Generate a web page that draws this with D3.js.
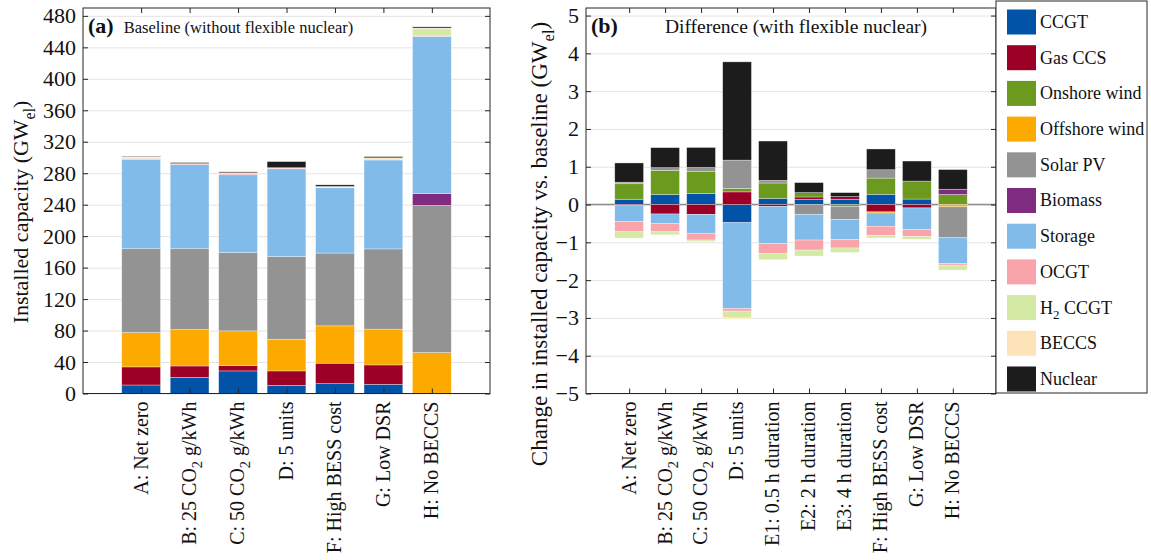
<!DOCTYPE html>
<html>
<head>
<meta charset="utf-8">
<script src="https://cdn.jsdelivr.net/npm/d3@7"></script>
<style>
    body { margin: 0; background: #fff; }
    svg, svg text { font-family: "Liberation Serif", "Times New Roman", serif; }
    svg { display: block; }
</style>
</head>
<body>
<div id="chart"></div>
<script>
// technologies, in stacking order
let techs = ['CCGT', 'Gas CCS', 'Onshore wind', 'Offshore wind', 'Solar PV', 'Biomass',
    'Storage', 'OCGT', 'H_{2} CCGT', 'BECCS', 'Nuclear']
let techColors = ['#0053a6', '#9c0026', '#6b9a1f', '#fcaa00', '#939393', '#7e2b80',
    '#80bbea', '#f9a3ab', '#d4eaa4', '#fde4b8', '#1c1c1c']

// panel (a) - baseline, GW
let baseCats = ['A: Net zero', 'B: 25 CO_{2} g/kWh', 'C: 50 CO_{2} g/kWh', 'D: 5 units',
    'F: High BESS cost', 'G: Low DSR', 'H: No BECCS']
let baseCCGT = [10.8, 20.6, 28.7, 10.4, 12.5, 11.7, 0]
let baseGasCCS = [23, 14.4, 6.7, 18.3, 26, 24.6, 0]
let baseOnshore = [0, 0, 0, 0, 0, 0, 0]
let baseOffshore = [43.7, 46.3, 44.2, 40.3, 47.5, 45.5, 52]
let baseSolar = [106.5, 102.7, 99.4, 105, 92.5, 102, 187]
let baseBiomass = [0, 0, 0, 0, 0, 0, 15]
let baseStorage = [113.5, 107, 99, 111.6, 83, 113, 200]
let baseOCGT = [1.5, 1, 2, 1, 0.5, 1, 0.5]
let baseH2 = [0.5, 0, 0, 0, 0, 0, 9]
let baseBECCS = [1.2, 0.3, 0.5, 0.4, 1.2, 1.8, 1]
let baseNuclear = [0.8, 1.2, 1.2, 7.8, 2, 1.5, 1.5]
let baseTicks = d3.range(0, 481, 40)

// panel (b) - difference with flexible nuclear, GW
let diffCats = ['A: Net zero', 'B: 25 CO_{2} g/kWh', 'C: 50 CO_{2} g/kWh', 'D: 5 units',
    'E1: 0.5 h duration', 'E2: 2 h duration', 'E3: 4 h duration',
    'F: High BESS cost', 'G: Low DSR', 'H: No BECCS']
let diffCCGT = [0.14, 0.265, 0.29, -0.48, 0.16, 0.14, 0.14, 0.27, 0.145, 0]
let diffGasCCS = [-0.03, -0.25, -0.26, 0.335, -0.05, 0.06, 0.07, -0.195, -0.09, 0]
let diffOnshore = [0.41, 0.64, 0.58, 0.09, 0.41, 0.115, -0.05, 0.43, 0.476, 0.265]
let diffOffshore = [0, 0, 0, 0, 0, 0, 0, -0.03, 0, -0.06]
let diffSolar = [0.04, 0.07, 0.11, 0.75, 0.07, -0.26, -0.35, 0.22, 0, -0.82]
let diffBiomass = [0, 0, 0, 0, 0, 0, 0, 0, 0, 0.14]
let diffStorage = [-0.42, -0.25, -0.5, -2.27, -0.98, -0.68, -0.53, -0.35, -0.57, -0.68]
let diffOCGT = [-0.27, -0.22, -0.18, -0.07, -0.27, -0.265, -0.22, -0.24, -0.19, -0.045]
let diffH2 = [-0.17, -0.08, -0.04, -0.18, -0.16, -0.16, -0.12, -0.07, -0.07, -0.13]
let diffBECCS = [0, 0, 0, -0.03, 0, 0, 0, 0, 0, 0]
let diffNuclear = [0.51, 0.53, 0.53, 2.6, 1.04, 0.265, 0.105, 0.55, 0.53, 0.52]
let diffTicks = d3.range(-5, 6, 1)

let baseSeries = [baseCCGT, baseGasCCS, baseOnshore, baseOffshore, baseSolar, baseBiomass,
    baseStorage, baseOCGT, baseH2, baseBECCS, baseNuclear]
let diffSeries = [diffCCGT, diffGasCCS, diffOnshore, diffOffshore, diffSolar, diffBiomass,
    diffStorage, diffOCGT, diffH2, diffBECCS, diffNuclear]

let width = 1151
let height = 560
let serif = '"Liberation Serif", "Times New Roman", serif'
let catFont = 20
let tickFont = 22

let svg = d3.select('#chart').append('svg')
    .attr('width', width)
    .attr('height', height)
    .attr('font-family', serif)

// writes "text_{sub}" as text with subscript tspans
function richText(sel, str, size) {
    let parts = str.split(/_\{([^}]*)\}/)
    let shift = size * 0.3
    parts.forEach((p, i) => {
        if (p === '') return
        let t = sel.append('tspan').text(p)
        if (i % 2 === 1) {
            t.attr('font-size', size * 0.72).attr('dy', shift)
        } else if (i > 0) {
            t.attr('dy', -shift)
        }
    })
}

function drawPanel(cfg) {
    let g = svg.append('g')
    let x = d3.scaleLinear().domain(cfg.xDomain).range([cfg.left, cfg.right])
    let y = d3.scaleLinear().domain(cfg.yDomain).range([cfg.bottom, cfg.top])
    let bw = (x(0.8) - x(0))

    // grid
    g.append('g')
        .attr('transform', 'translate(' + cfg.left + ',0)')
        .call(d3.axisLeft(y).tickValues(cfg.ticks).tickSize(-(cfg.right - cfg.left)).tickFormat(''))
        .call(s => s.select('.domain').remove())
        .selectAll('line').attr('stroke', '#e4e4e4')

    if (cfg.zeroLine) {
        g.append('line')
            .attr('x1', cfg.left).attr('x2', cfg.right)
            .attr('y1', y(0)).attr('y2', y(0))
            .attr('stroke', '#8c8c8c').attr('stroke-width', 1.5)
    }

    let rows = cfg.cats.map((c, i) => {
        let r = { idx: i + 1 }
        techs.forEach((t, j) => { r[t] = cfg.series[j][i] })
        return r
    })
    let stacked = d3.stack().keys(techs).offset(d3.stackOffsetDiverging)(rows)

    g.selectAll('.layer')
        .data(stacked)
        .join('g')
        .attr('fill', (d, i) => techColors[i])
        .selectAll('rect')
        .data(d => d.filter(v => v[1] !== v[0]))
        .join('rect')
        .attr('x', d => x(d.data.idx) - bw / 2)
        .attr('width', bw)
        .attr('y', d => y(Math.max(d[0], d[1])))
        .attr('height', d => Math.abs(y(d[0]) - y(d[1])))
        .attr('stroke', '#ffffff')
        .attr('stroke-opacity', 0.55)
        .attr('stroke-width', 0.6)

    // frame and ticks
    let idxs = cfg.cats.map((c, i) => i + 1)
    let axisColor = '#262626'
    g.append('g')
        .attr('transform', 'translate(0,' + cfg.bottom + ')')
        .call(d3.axisBottom(x).tickValues(idxs).tickSize(-5).tickFormat(''))
        .call(s => s.select('.domain').remove())
        .selectAll('line').attr('stroke', axisColor)
    g.append('g')
        .attr('transform', 'translate(0,' + cfg.top + ')')
        .call(d3.axisTop(x).tickValues(idxs).tickSize(-5).tickFormat(''))
        .call(s => s.select('.domain').remove())
        .selectAll('line').attr('stroke', axisColor)
    g.append('g')
        .attr('transform', 'translate(' + cfg.right + ',0)')
        .call(d3.axisRight(y).tickValues(cfg.ticks).tickSize(-5).tickFormat(''))
        .call(s => s.select('.domain').remove())
        .selectAll('line').attr('stroke', axisColor)
    let yAxis = g.append('g')
        .attr('transform', 'translate(' + cfg.left + ',0)')
        .call(d3.axisLeft(y).tickValues(cfg.ticks).tickSize(-5).tickPadding(7).tickFormat(d3.format('d')))
    yAxis.attr('font-family', serif).attr('font-size', tickFont)
    yAxis.select('.domain').remove()
    yAxis.selectAll('line').attr('stroke', axisColor)
    yAxis.selectAll('text').attr('fill', '#111')

    g.append('rect')
        .attr('x', cfg.left).attr('y', cfg.top)
        .attr('width', cfg.right - cfg.left)
        .attr('height', cfg.bottom - cfg.top)
        .attr('fill', 'none')
        .attr('stroke', axisColor)
        .attr('stroke-width', 1)

    // category labels, rotated
    cfg.cats.forEach((c, i) => {
        let t = g.append('text')
            .attr('transform', 'translate(' + x(i + 1) + ',' + (cfg.bottom + 8) + ') rotate(-90)')
            .attr('text-anchor', 'end')
            .attr('dy', '0.32em')
            .attr('font-size', catFont)
            .attr('fill', '#111')
        richText(t, c, catFont)
    })

    // panel title
    let title = g.append('text')
        .attr('x', cfg.left + 5)
        .attr('y', cfg.top + 25)
        .attr('fill', '#111')
    title.append('tspan').attr('font-weight', 'bold').attr('font-size', 22).text(cfg.tag)
    title.append('tspan').attr('dx', cfg.titleGap).attr('font-size', cfg.titleSize).text(cfg.title)

    // y label
    let yl = g.append('text')
        .attr('transform', 'translate(' + cfg.yLabelX + ',' + cfg.yLabelY + ') rotate(-90)')
        .attr('text-anchor', 'middle')
        .attr('font-size', cfg.yLabelSize)
        .attr('fill', '#111')
    richText(yl, cfg.yLabel, cfg.yLabelSize)
}

drawPanel({
    cats: baseCats,
    series: baseSeries,
    ticks: baseTicks,
    xDomain: [-0.2, 8.2],
    yDomain: [0, 490],
    left: 83,
    right: 490,
    top: 8,
    bottom: 393.5,
    tag: '(a)',
    titleGap: 10,
    titleSize: 16.5,
    title: 'Baseline (without flexible nuclear)',
    yLabel: 'Installed capacity (GW_{el})',
    yLabelSize: 22,
    yLabelX: 28,
    yLabelY: 212,
    zeroLine: false
})

drawPanel({
    cats: diffCats,
    series: diffSeries,
    ticks: diffTicks,
    xDomain: [-0.2, 11.2],
    yDomain: [-5, 5.2],
    left: 586,
    right: 996,
    top: 8,
    bottom: 393.5,
    tag: '(b)',
    titleGap: 47,
    titleSize: 19.5,
    title: 'Difference (with flexible nuclear)',
    yLabel: 'Change in installed capacity vs. baseline (GW_{el})',
    yLabelSize: 23,
    yLabelX: 547,
    yLabelY: 244,
    zeroLine: true
})

// legend
let legend = svg.append('g')
let ly = d3.scalePoint().domain(techs).range([22, 379])
legend.append('rect')
    .attr('x', 996).attr('y', 1)
    .attr('width', 151).attr('height', 392)
    .attr('fill', '#fff')
    .attr('stroke', '#262626')
techs.forEach((t, i) => {
    legend.append('rect')
        .attr('x', 1007).attr('y', ly(t) - 12.5)
        .attr('width', 29).attr('height', 25)
        .attr('fill', techColors[i])
    let txt = legend.append('text')
        .attr('x', 1040).attr('y', ly(t))
        .attr('dy', '0.33em')
        .attr('font-size', 18)
        .attr('fill', '#111')
    richText(txt, t, 18)
})
</script>
</body>
</html>
